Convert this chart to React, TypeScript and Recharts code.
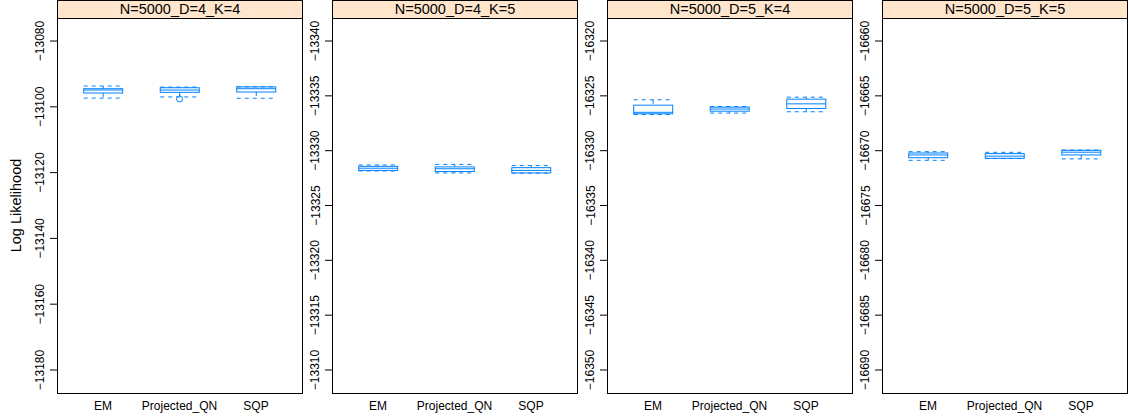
import { Bar, ComposedChart, Scatter, XAxis, YAxis } from 'recharts';

const methods = ['EM', 'Projected_QN', 'SQP'];
const panelTitles = ['N=5000_D=4_K=4', 'N=5000_D=4_K=5', 'N=5000_D=5_K=4', 'N=5000_D=5_K=5'];

// per method: [lower whisker, q1, median, q3, upper whisker]
const statsD4K4 = [
  [-13097.35, -13095.8, -13094.9, -13094.5, -13093.7],
  [-13097.0, -13095.6, -13094.9, -13094.2, -13094.0],
  [-13097.4, -13095.5, -13094.5, -13093.95, -13093.9],
];
const statsD4K5 = [
  [-13328.7, -13328.57, -13328.4, -13328.2, -13328.15],
  [-13328.75, -13328.52, -13328.35, -13328.1, -13327.97],
  [-13328.64, -13328.45, -13328.2, -13327.97, -13327.95],
];
const statsD5K4 = [
  [-16326.7, -16326.64, -16326.5, -16325.85, -16325.36],
  [-16326.57, -16326.4, -16326.2, -16326.03, -16325.97],
  [-16326.45, -16326.15, -16325.73, -16325.3, -16325.12],
];
const statsD5K5 = [
  [-16670.88, -16670.64, -16670.39, -16670.21, -16670.09],
  [-16670.72, -16670.7, -16670.5, -16670.27, -16670.15],
  [-16670.75, -16670.39, -16670.14, -16669.97, -16669.94],
];
const outliersD4K4 = [null, -13097.6, null];

const ticksD4K4 = [-13180, -13160, -13140, -13120, -13100, -13080];
const ticksD4K5 = [-13340, -13335, -13330, -13325, -13320, -13315, -13310];
const ticksD5K4 = [-16350, -16345, -16340, -16335, -16330, -16325, -16320];
const ticksD5K5 = [-16690, -16685, -16680, -16675, -16670, -16665, -16660];

const limitsD4K4 = [-13187, -13073];
const limitsD4K5 = [-13342.1, -13307.9];
const limitsD5K4 = [-16352.1, -16317.9];
const limitsD5K5 = [-16692.1, -16657.9];

const BLUE = '#0080ff';
const FONT = '"Liberation Sans", Arial, Helvetica, sans-serif';
const PLOT_W = 245;
const lefts = [57, 332, 607, 882];

function BoxShape(props: any) {
  const { x, y, width, height, payload, reversed } = props;
  if (!payload) return null;
  const [lo, q1, med, q3, hi] = payload.stats;
  const flip = reversed && height > 0;
  const pHi = flip ? y + height : y;
  const pLo = flip ? y : y + height;
  const py = (v: number) => pHi + ((hi - v) / (hi - lo)) * (pLo - pHi);
  const cx = x + width / 2;
  const x1 = x + width;
  const boxTop = Math.min(py(q1), py(q3));
  const boxH = Math.abs(py(q1) - py(q3));
  return (
    <g stroke={BLUE} fill="none" strokeWidth={1}>
      <line x1={cx} x2={cx} y1={py(hi)} y2={py(q3)} strokeDasharray="4 4" />
      <line x1={cx} x2={cx} y1={py(q1)} y2={py(lo)} strokeDasharray="4 4" />
      <line x1={x} x2={x1} y1={py(hi)} y2={py(hi)} strokeDasharray="4 4" />
      <line x1={x} x2={x1} y1={py(lo)} y2={py(lo)} strokeDasharray="4 4" />
      <rect x={x} y={boxTop} width={width} height={boxH} />
      <line x1={x} x2={x1} y1={py(med)} y2={py(med)} />
    </g>
  );
}

function OutlierDot(props: any) {
  const { cx, cy } = props;
  if (!Number.isFinite(cx) || !Number.isFinite(cy)) return null;
  return <circle cx={cx} cy={cy} r={3} stroke={BLUE} fill="none" strokeWidth={1} />;
}

function YTick(props: any) {
  const { x, y, payload } = props;
  const label = String(payload.value).replace('-', '\u2212');
  const tx = x - 3.5;
  return (
    <text x={tx} y={y} transform={`rotate(-90, ${tx}, ${y})`} textAnchor="middle" fontSize={12} fontFamily={FONT} fill="#000">
      {label}
    </text>
  );
}

function XTick(props: any) {
  const { x, y, payload } = props;
  return (
    <text x={x} y={y} dy="0.71em" textAnchor="middle" fontSize={12} fontFamily={FONT} fill="#000">
      {payload.value}
    </text>
  );
}

function Panel({ index, stats, outliers, ticks, limits, reversed }: any) {
  const yW = index === 0 ? 57 : 30;
  const left = lefts[index];
  const data = methods.map((m, i) => ({
    name: m,
    range: [stats[i][0], stats[i][4]],
    stats: stats[i],
    outlier: outliers ? outliers[i] : null,
  }));
  return (
    <>
      <div style={{ position: 'absolute', left: left - yW, top: 0 }}>
        <ComposedChart width={yW + PLOT_W} height={419} data={data} margin={{ top: 18, right: 0, bottom: 0, left: 0 }}>
          <XAxis
            dataKey="name"
            type="category"
            interval={0}
            padding={{ left: 7.7, right: 7.7 }}
            axisLine={false}
            tickLine={false}
            height={26}
            tick={<XTick />}
          />
          <YAxis
            type="number"
            domain={limits}
            ticks={ticks}
            interval={0}
            allowDataOverflow
            reversed={reversed}
            width={yW}
            tickSize={7}
            axisLine={false}
            tickLine={{ stroke: '#000' }}
            tick={<YTick />}
          />
          <Bar
            dataKey="range"
            barSize={39}
            isAnimationActive={false}
            shape={(p: any) => <BoxShape {...p} reversed={reversed} />}
          />
          {outliers && (
            <Scatter dataKey="outlier" isAnimationActive={false} shape={(p: any) => <OutlierDot {...p} />} />
          )}
        </ComposedChart>
      </div>
      <div
        style={{
          position: 'absolute',
          left,
          top: 0,
          width: PLOT_W + 1,
          height: 19,
          boxSizing: 'border-box',
          border: '1px solid #000',
          background: '#ffe5cc',
          fontSize: 14.5,
          lineHeight: '17px',
          textAlign: 'center',
          color: '#000',
        }}
      >
        {panelTitles[index]}
      </div>
      <div
        style={{
          position: 'absolute',
          left,
          top: 18,
          width: PLOT_W + 1,
          height: 376,
          boxSizing: 'border-box',
          border: '1px solid #000',
          pointerEvents: 'none',
        }}
      />
    </>
  );
}

export default function App() {
  return (
    <div style={{ position: 'absolute', left: 0, top: 0, width: 1128, height: 419, background: '#fff', fontFamily: FONT, overflow: 'hidden' }}>
      <svg width={40} height={419} style={{ position: 'absolute', left: 0, top: 0 }}>
        <text x={21} y={205.5} transform="rotate(-90, 21, 205.5)" textAnchor="middle" fontSize={14.5} fontFamily={FONT} fill="#000">
          Log Likelihood
        </text>
      </svg>
      <Panel index={0} stats={statsD4K4} outliers={outliersD4K4} ticks={ticksD4K4} limits={limitsD4K4} reversed={false} />
      <Panel index={1} stats={statsD4K5} ticks={ticksD4K5} limits={limitsD4K5} reversed={true} />
      <Panel index={2} stats={statsD5K4} ticks={ticksD5K4} limits={limitsD5K4} reversed={false} />
      <Panel index={3} stats={statsD5K5} ticks={ticksD5K5} limits={limitsD5K5} reversed={false} />
    </div>
  );
}
